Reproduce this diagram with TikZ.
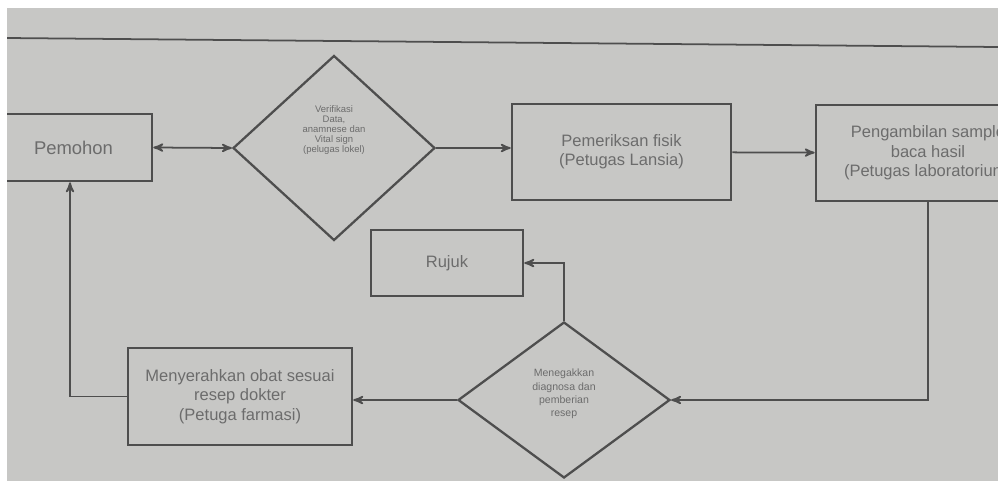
\documentclass[tikz,border=0pt]{standalone}
\usepackage{fontspec}
\setmainfont{Liberation Sans}
\usepackage{xcolor}
\usepackage{tikz}
\usetikzlibrary{arrows, positioning, calc, shapes.geometric}

\definecolor{paper}{RGB}{199,199,197}
\definecolor{ink}{RGB}{78,78,78}
\definecolor{print}{RGB}{108,108,108}

\begin{document}
\begin{tikzpicture}[
		x=0.02cm, y=-0.02cm,
		inner sep=1mm,
		>=stealth',
		line width=1pt,
		draw=ink,
		flowbox/.style={
				rectangle,
				align=center,
				line width=1.5pt,
				draw=ink,
				text=print,
				font=\fontsize{9.4}{11}\selectfont
			},
		checkdiamond/.style={
				diamond,
				inner sep=0pt,
				line width=1.3pt,
				draw=ink
			},
		smalltext/.style={
				align=center,
				text=print,
				inner sep=0pt
			},
		]

		\useasboundingbox (0,0) rectangle (998,487);
		\fill[paper] (7,8) rectangle (998,481);

		\begin{scope}
		\clip (7,8) rectangle (998,481);

		\draw[ink, line width=1pt] (7,38) -- (998,47);

		\node[flowbox, minimum width=3.14cm, minimum height=1.34cm,
			font=\fontsize{10.5}{12}\selectfont] (pemohon) at (73.5,147.5) {Pemohon};

		\node[checkdiamond, minimum width=4.04cm, minimum height=3.7cm,
			label={[smalltext, yshift=0.36cm, font=\fontsize{5.4}{5.6}\selectfont]center:Verifikasi\\Data,\\anamnese dan\\Vital sign\\(pelugas lokel)}] (verif) at (334,148) {};

		\node[flowbox, minimum width=4.38cm, minimum height=1.92cm] (fisik) at (621.5,152) {Pemeriksan fisik\\(Petugas Lansia)};

		\node[flowbox, minimum width=4.48cm, minimum height=1.92cm] (lab) at (928,153) {Pengambilan sample\\baca hasil\\(Petugas laboratorium)};

		\node[flowbox, minimum width=3.04cm, minimum height=1.32cm] (rujuk) at (447,263) {Rujuk};

		\node[checkdiamond, minimum width=4.24cm, minimum height=3.12cm,
			label={[smalltext, yshift=0.12cm, font=\fontsize{6}{7.5}\selectfont]center:Menegakkan\\diagnosa dan\\pemberian\\resep}] (diag) at (564,400) {};

		\node[flowbox, minimum width=4.48cm, minimum height=1.94cm] (obat) at (240,396.5) {Menyerahkan obat sesuai\\resep dokter\\(Petuga farmasi)};

		\draw[<->, ink] (pemohon.east) -- (verif.west);

		\draw[->, ink] (verif.east) -- (verif.east -| fisik.west);

		\draw[->, ink] (fisik) -- (lab);

		\draw[->, ink] (lab.south) |- (diag.east);

		\draw[->, ink] (diag.north) |- (rujuk.east);

		\draw[->, ink] (diag.west) -- (diag.west -| obat.east);

		\draw[->, ink] (obat.west) -| ([xshift=-0.07cm]pemohon.south);

		\end{scope}

	\end{tikzpicture}
\end{document}
